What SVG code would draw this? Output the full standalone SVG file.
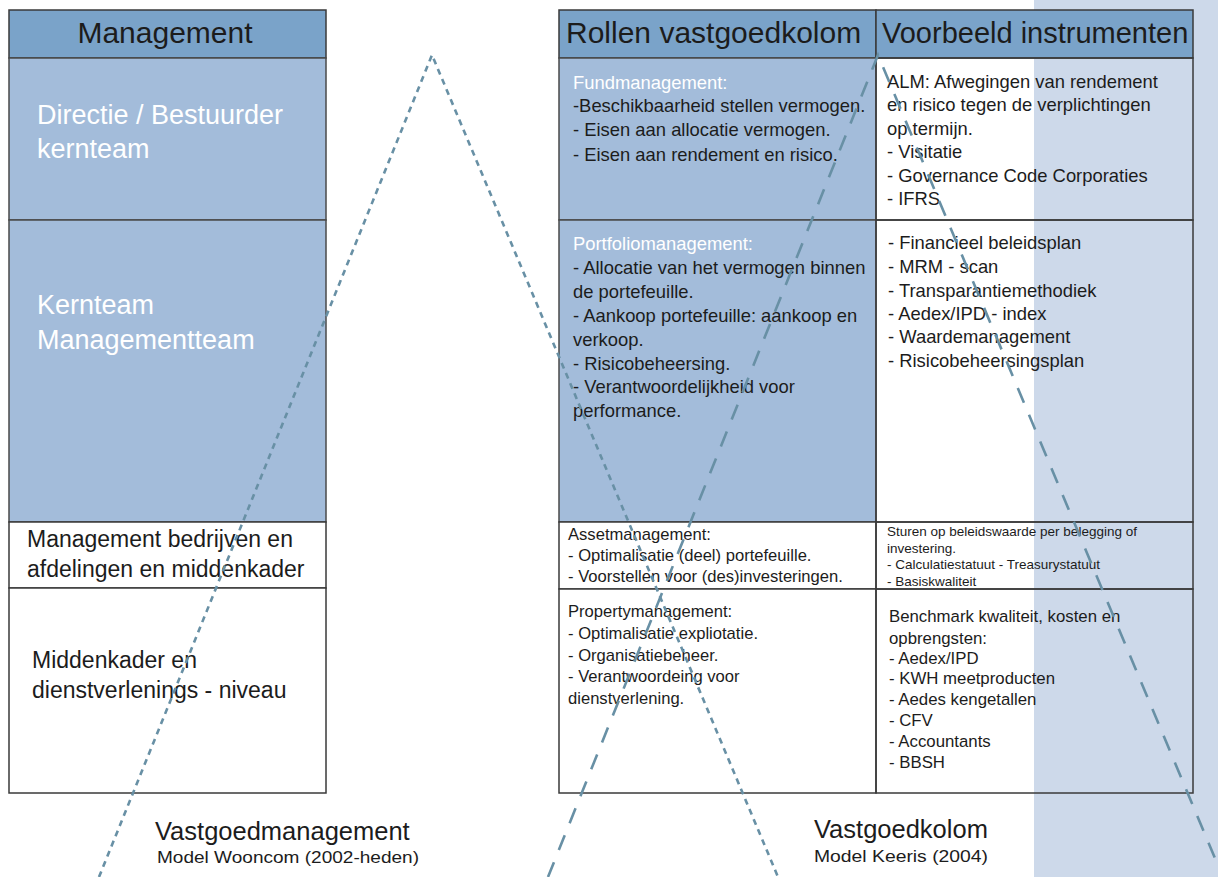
<svg xmlns="http://www.w3.org/2000/svg" width="1218" height="877" viewBox="0 0 1218 877">
<style>
text{font-family:"Liberation Sans",Arial,sans-serif;fill:#1c1c1c}
.w{fill:#ffffff}
.hdr{fill:#7aa3c9;stroke:#3a3a3a;stroke-width:1.5}
.blue{fill:#a3bcda;stroke:#4a4a4a;stroke-width:1.5}
.plain{fill:none;stroke:#3a3a3a;stroke-width:1.5}
.white{fill:#ffffff;stroke:#3a3a3a;stroke-width:1.5}
.sd{fill:none;stroke:#6890a5;stroke-width:2.6;stroke-dasharray:6 5}
.ld{fill:none;stroke:#6890a5;stroke-width:2.6;stroke-dasharray:16 13}
.t30{font-size:30px}
.t27{font-size:27px}
.t23{font-size:23px}
.r18{font-size:18.4px}
.r17{font-size:16.6px}
.r13{font-size:13.5px}
.b25{font-size:25.5px}
.b15{font-size:17px}
</style>
<rect id="band" x="1034" y="0" width="184" height="877" fill="#cdd9ea"/>
<g id="left-header"><rect class="hdr" x="9" y="10" width="317" height="48"/><text class="t30" x="165" y="43" text-anchor="middle">Management</text></g>
<g id="left-directie"><rect class="blue" x="9" y="58" width="317" height="162"/><text class="t27 w" x="37" y="124">Directie / Bestuurder</text><text class="t27 w" x="37" y="158">kernteam</text></g>
<g id="left-kernteam"><rect class="blue" x="9" y="220" width="317" height="302"/><text class="t27 w" x="37" y="314">Kernteam</text><text class="t27 w" x="37" y="349">Managementteam</text></g>
<g id="left-management"><rect class="white" x="9" y="522" width="317" height="66"/><text class="t23" x="27" y="547">Management bedrijven en</text><text class="t23" x="27" y="577">afdelingen en middenkader</text></g>
<g id="left-middenkader"><rect class="white" x="9" y="588" width="317" height="205"/><text class="t23" x="32" y="668">Middenkader en</text><text class="t23" x="32" y="698">dienstverlenings - niveau</text></g>
<g id="right-header-rollen"><rect class="hdr" x="559" y="10" width="317" height="48"/><text class="t30" x="566" y="43">Rollen vastgoedkolom</text></g>
<g id="right-header-instr"><rect class="hdr" x="876" y="10" width="317" height="48"/><text class="t30" x="882" y="43" style="font-size:29px">Voorbeeld instrumenten</text></g>
<g id="fund"><rect class="blue" x="559" y="58" width="317" height="162"/>
<text class="r18 w" x="573" y="89">Fundmanagement:</text>
<text class="r18" x="573" y="112">-Beschikbaarheid stellen vermogen.</text>
<text class="r18" x="573" y="136">- Eisen aan allocatie vermogen.</text>
<text class="r18" x="573" y="161">- Eisen aan rendement en risico.</text></g>
<g id="fund-instr"><rect class="plain" x="876" y="58" width="317" height="162"/>
<text class="r18" x="887" y="88">ALM: Afwegingen van rendement</text>
<text class="r18" x="887" y="111">en risico tegen de verplichtingen</text>
<text class="r18" x="887" y="135">op termijn.</text>
<text class="r18" x="887" y="158">- Visitatie</text>
<text class="r18" x="887" y="182">- Governance Code Corporaties</text>
<text class="r18" x="887" y="205">- IFRS</text></g>
<g id="portfolio"><rect class="blue" x="559" y="220" width="317" height="302"/>
<text class="r18 w" x="573" y="250">Portfoliomanagement:</text>
<text class="r18" x="573" y="274">- Allocatie van het vermogen binnen</text>
<text class="r18" x="573" y="298">de portefeuille.</text>
<text class="r18" x="573" y="322">- Aankoop portefeuille: aankoop en</text>
<text class="r18" x="573" y="346">verkoop.</text>
<text class="r18" x="573" y="370">- Risicobeheersing.</text>
<text class="r18" x="573" y="393">- Verantwoordelijkheid voor</text>
<text class="r18" x="573" y="417">performance.</text></g>
<g id="portfolio-instr"><rect class="plain" x="876" y="220" width="317" height="302"/>
<text class="r18" x="888" y="249">- Financieel beleidsplan</text>
<text class="r18" x="888" y="273">- MRM - scan</text>
<text class="r18" x="888" y="297">- Transparantiemethodiek</text>
<text class="r18" x="888" y="320">- Aedex/IPD - index</text>
<text class="r18" x="888" y="343">- Waardemanagement</text>
<text class="r18" x="888" y="367">- Risicobeheersingsplan</text></g>
<g id="asset"><rect class="white" x="559" y="522" width="317" height="67"/>
<text class="r17" x="568" y="540">Assetmanagement:</text>
<text class="r17" x="568" y="561">- Optimalisatie (deel) portefeuille.</text>
<text class="r17" x="568" y="582">- Voorstellen voor (des)investeringen.</text></g>
<g id="asset-instr"><rect class="plain" x="876" y="522" width="317" height="67"/>
<text class="r13" x="887" y="536">Sturen op beleidswaarde per belegging of</text>
<text class="r13" x="887" y="553">investering.</text>
<text class="r13" x="887" y="569">- Calculatiestatuut - Treasurystatuut</text>
<text class="r13" x="887" y="586">- Basiskwaliteit</text></g>
<g id="property"><rect class="white" x="559" y="589" width="317" height="204"/>
<text class="r17" x="568" y="617">Propertymanagement:</text>
<text class="r17" x="568" y="639">- Optimalisatie expliotatie.</text>
<text class="r17" x="568" y="661">- Organisatiebeheer.</text>
<text class="r17" x="568" y="682">- Verantwoordeing voor</text>
<text class="r17" x="568" y="704">dienstverlening.</text></g>
<g id="property-instr"><rect class="plain" x="876" y="589" width="317" height="204"/>
<text class="r17" x="889" y="622" style="font-size:16.8px">Benchmark kwaliteit, kosten en</text>
<text class="r17" x="889" y="644" style="font-size:16.8px">opbrengsten:</text>
<text class="r17" x="889" y="664" style="font-size:16.8px">- Aedex/IPD</text>
<text class="r17" x="889" y="684" style="font-size:16.8px">- KWH meetproducten</text>
<text class="r17" x="889" y="705" style="font-size:16.8px">- Aedes kengetallen</text>
<text class="r17" x="889" y="726" style="font-size:16.8px">- CFV</text>
<text class="r17" x="889" y="747" style="font-size:16.8px">- Accountants</text>
<text class="r17" x="889" y="768" style="font-size:16.8px">- BBSH</text></g>
<g id="label-left"><text class="b25" x="155" y="840">Vastgoedmanagement</text><text class="b15" x="157" y="863" textLength="262" lengthAdjust="spacingAndGlyphs">Model Wooncom (2002-heden)</text></g>
<g id="label-right"><text class="b25" x="814" y="838">Vastgoedkolom</text><text class="b15" x="814" y="862" textLength="174" lengthAdjust="spacingAndGlyphs">Model Keeris (2004)</text></g>
<g id="connectors">
<polyline class="sd" points="99,877 432,55 778,877"/>
<polyline class="ld" points="548,877 878,55 1217,863"/>
</g>
</svg>
